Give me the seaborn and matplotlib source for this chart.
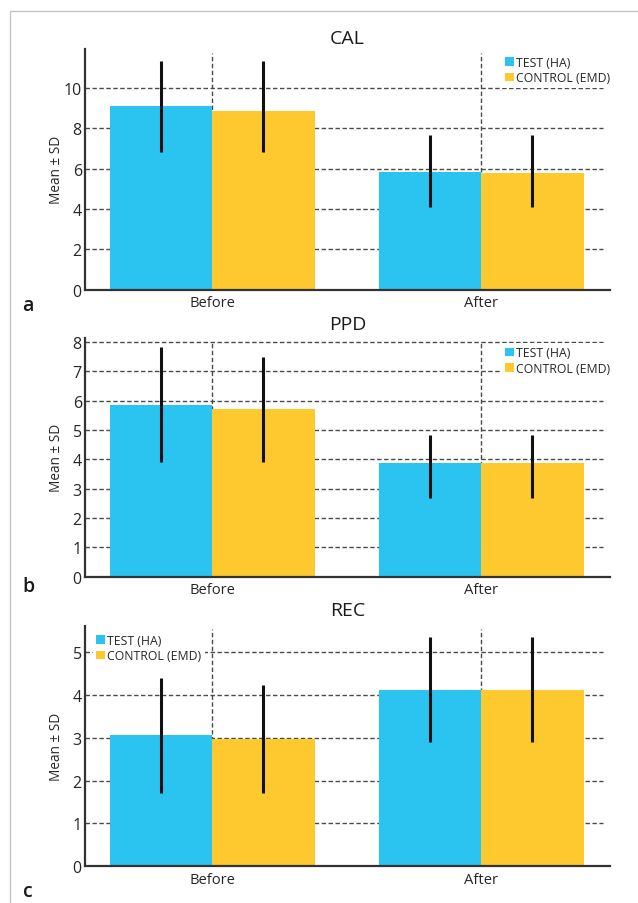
import matplotlib
matplotlib.use("Agg")
import matplotlib.pyplot as plt
import seaborn as sns
import pandas as pd
import numpy as np
from matplotlib.patches import Patch, Rectangle

sns.set_style("white")
plt.rcParams['font.family'] = ['Open Sans', 'DejaVu Sans']

# ---- data ----
times = ["Before", "After"]
groups = ["TEST (HA)", "CONTROL (EMD)"]

cal_test = [9.09, 5.85]
cal_control = [8.86, 5.77]
cal_test_low = [6.81, 4.12]
cal_test_high = [11.35, 7.67]
cal_control_low = [6.81, 4.12]
cal_control_high = [11.35, 7.67]

ppd_test = [5.85, 3.87]
ppd_control = [5.72, 3.87]
ppd_test_low = [3.89, 2.67]
ppd_test_high = [7.81, 4.82]
ppd_control_low = [3.89, 2.67]
ppd_control_high = [7.49, 4.82]

rec_test = [3.07, 4.11]
rec_control = [2.96, 4.11]
rec_test_low = [1.72, 2.89]
rec_test_high = [4.40, 5.35]
rec_control_low = [1.72, 2.89]
rec_control_high = [4.22, 5.35]

panels = [
    dict(title="CAL", letter="a", test=cal_test, control=cal_control,
         tlo=cal_test_low, thi=cal_test_high, clo=cal_control_low, chi=cal_control_high,
         ymax=11.93, ticks=[0, 2, 4, 6, 8, 10], grid=[2, 4, 6, 8, 10]),
    dict(title="PPD", letter="b", test=ppd_test, control=ppd_control,
         tlo=ppd_test_low, thi=ppd_test_high, clo=ppd_control_low, chi=ppd_control_high,
         ymax=8.13, ticks=[0, 1, 2, 3, 4, 5, 6, 7, 8], grid=[1, 2, 3, 4, 5, 6, 7, 8]),
    dict(title="REC", letter="c", test=rec_test, control=rec_control,
         tlo=rec_test_low, thi=rec_test_high, clo=rec_control_low, chi=rec_control_high,
         ymax=5.61, ticks=[0, 1, 2, 3, 4, 5], grid=[1, 2, 3, 4, 5]),
]

palette = ["#2BC4F1", "#FDC92F"]
W, H = 638, 904
fig = plt.figure(figsize=(W / 100, H / 100), dpi=100)

# outer light frame
fig.patches.append(Rectangle((10 / W, -0.1), 1.2, 1 - 12 / H + 0.1, transform=fig.transFigure,
                             fill=False, edgecolor="#c4c4c4", linewidth=1.0))

# pixel geometry of the axes (top, bottom)
axes_px = [(50, 290.7), (339, 577.7), (626.7, 867.3)]
title_y = [39, 325, 611]
letter_y = [306, 587, 892]
legend_pos = [(505, 56.5), (505, 347), (96, 634.5)]
xl, xr = 84.6, 610.4
txt = "#262626"

for p, (top, bot), ty, ly, lp in zip(panels, axes_px, title_y, letter_y, legend_pos):
    ax = fig.add_axes([xl / W, 1 - bot / H, (xr - xl) / W, (bot - top) / H])
    df = pd.DataFrame({
        "time": times * 2,
        "group": [groups[0]] * 2 + [groups[1]] * 2,
        "value": p["test"] + p["control"],
    })
    sns.barplot(data=df, x="time", y="value", hue="group", order=times,
                hue_order=groups, palette=palette, width=0.762, errorbar=None,
                saturation=1, legend=False, ax=ax, zorder=2, linewidth=0)
    ax.set_xlim(-0.474, 1.481)
    ax.set_ylim(0, p["ymax"])

    # grid lines (behind bars)
    ax.hlines(p["grid"], -0.474, 1.455, colors="#4a4a4a", linestyles=(0, (3.2, 1.8)),
              linewidth=1.0, zorder=1)
    for xv in [0, 1]:
        ax.axvline(xv, ymin=0, ymax=0.985, color="#4a4a4a", linestyle=(0, (3.2, 1.8)),
                   linewidth=1.0, zorder=1)

    # error bars
    lows = [p["tlo"], p["clo"]]
    highs = [p["thi"], p["chi"]]
    bar_containers = list(ax.containers)
    for ci, cont in enumerate(bar_containers):
        bars = [b for b in cont.patches if b is not None]
        xs = [b.get_x() + b.get_width() / 2 for b in bars]
        means = np.array([b.get_height() for b in bars])
        lo = np.array(lows[ci])
        hi = np.array(highs[ci])
        ax.errorbar(xs, means, yerr=[means - lo, hi - means], fmt="none",
                    ecolor="#111111", elinewidth=2.2, capsize=0, zorder=3)

    for s in ["top", "right"]:
        ax.spines[s].set_visible(False)
    for s in ["left", "bottom"]:
        ax.spines[s].set_color("#333333")
        ax.spines[s].set_linewidth(1.6)
    ax.set_yticks(p["ticks"])
    ax.set_yticklabels([str(t) for t in p["ticks"]])
    ax.tick_params(axis="y", length=0, pad=2.0, labelsize=11.5, labelcolor=txt)
    ax.tick_params(axis="x", length=0, pad=4, labelsize=10.6, labelcolor=txt)
    ax.set_xlabel("")
    ax.set_ylabel("")

    fig.text(347.5 / W, 1 - ty / H, p["title"], ha="center", va="center",
             fontsize=14, color="#1a1a1a")
    fig.text(56 / W, 1 - (top + bot) / 2 / H, "Mean ± SD", rotation=90,
             ha="center", va="center", fontsize=9.8, color=txt)
    fig.text(28 / W, 1 - ly / H, p["letter"], ha="center", va="center",
             fontsize=14, fontweight="semibold", color="#1a1a1a")

    handles = [Patch(facecolor=palette[0], edgecolor="none"),
               Patch(facecolor=palette[1], edgecolor="none")]
    pad_px = 3.5
    leg = ax.legend(handles, groups, loc="upper left",
                    bbox_to_anchor=((lp[0] - pad_px) / W, 1 - (lp[1] - pad_px) / H),
                    bbox_transform=fig.transFigure, frameon=True, fontsize=8.8,
                    handlelength=0.7, handleheight=0.7, handletextpad=0.2,
                    labelspacing=0.2, borderpad=0.3, borderaxespad=0,
                    labelcolor=txt, fancybox=False)
    leg.get_frame().set_facecolor("white")
    leg.get_frame().set_edgecolor("none")
    leg.get_frame().set_alpha(1)
    leg.set_zorder(5)

fig.savefig("out.png", dpi=100)
